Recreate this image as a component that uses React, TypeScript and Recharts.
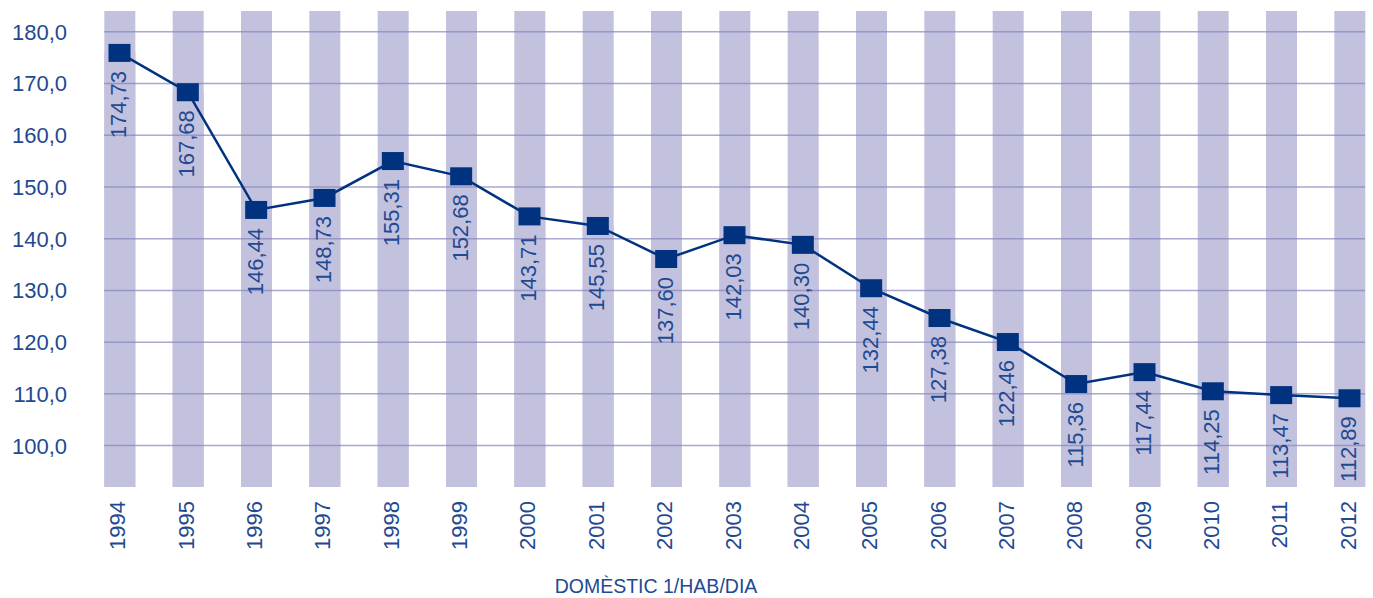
import React from 'react';
import { ComposedChart, Bar, Line, XAxis, YAxis, ReferenceLine, LabelList } from 'recharts';

const years = ['1994','1995','1996','1997','1998','1999','2000','2001','2002','2003','2004','2005','2006','2007','2008','2009','2010','2011','2012'];
const values = [175.9, 168.3, 145.55, 147.87, 155.0, 152.05, 144.3, 142.45, 136.07, 140.67, 138.8, 130.42, 124.66, 120.02, 111.9, 114.2, 110.5, 109.76, 109.15];
const labels = ['174,73','167,68','146,44','148,73','155,31','152,68','143,71','145,55','137,60','142,03','140,30','132,44','127,38','122,46','115,36','117,44','114,25','113,47','112,89'];
const yTicks = [100, 110, 120, 130, 140, 150, 160, 170, 180];
const xTicks = years.map((_, i) => i);
const title = 'DOMÈSTIC 1/HAB/DIA';

const data = years.map((y, i) => ({ idx: i, year: y, value: values[i], label: labels[i] }));

const NAVY = '#00327f';
const TEXT = '#1f4a92';
const BAND = '#c3c2de';
const FONT = '"Liberation Sans", Arial, sans-serif';

const XTick = (props: any) => {
  const { x, y, payload } = props;
  return (
    <text transform={`translate(${x},${y}) rotate(-90)`} x={0} y={6} textAnchor="end" fill={TEXT} fontSize={22} fontFamily={FONT}>
      {years[payload.value]}
    </text>
  );
};

const YTick = (props: any) => {
  const { x, y, payload } = props;
  return (
    <text x={x} y={y} dy="0.36em" textAnchor="end" fill={TEXT} fontSize={22} fontFamily={FONT}>
      {payload.value.toFixed(1).replace('.', ',')}
    </text>
  );
};

const PointLabel = (props: any) => {
  const { x, y, value } = props;
  return (
    <text transform={`translate(${x},${y + 18}) rotate(-90)`} x={0} y={6.5} textAnchor="end" fill={TEXT} fontSize={22} fontFamily={FONT}>
      {value}
    </text>
  );
};

const SquareDot = (props: any) => {
  const { cx, cy, index } = props;
  return <rect key={`d${index}`} x={cx - 11} y={cy - 9} width={22} height={18} fill={NAVY} />;
};

const TitleLabel = (props: any) => {
  const vb = props.viewBox;
  return (
    <text x={vb.x + vb.width / 2 - 78.5} y={vb.y + vb.height - 5} textAnchor="middle" fill={TEXT} fontSize={19.5} fontFamily={FONT}>
      {title}
    </text>
  );
};

export default function App() {
  return (
    <div style={{ position: 'absolute', left: 0, top: 0, background: '#fff' }}>
      <ComposedChart width={1373} height={598} data={data} margin={{ top: 11, right: 8, bottom: 0, left: 0 }}>
        <XAxis
          dataKey="idx"
          type="number"
          domain={[-0.2268, 18.2268]}
          allowDataOverflow
          ticks={xTicks}
          interval={0}
          axisLine={false}
          tickLine={false}
          tickSize={0}
          tickMargin={14}
          height={111}
          tick={<XTick />}
          label={{ content: <TitleLabel /> } as any}
        />
        <YAxis
          type="number"
          domain={[92, 184]}
          allowDataOverflow
          ticks={yTicks}
          axisLine={false}
          tickLine={false}
          tickSize={0}
          tickMargin={37}
          width={104}
          tick={<YTick />}
        />
        <Bar dataKey="value" barSize={31} fill={BAND} background={{ fill: BAND }} isAnimationActive={false} />
        {yTicks.map((t) => (
          <ReferenceLine key={t} y={t} stroke="#8583ba" strokeOpacity={0.7} strokeWidth={1.5} />
        ))}
        <Line
          dataKey="value"
          stroke={NAVY}
          strokeWidth={2.5}
          dot={<SquareDot />}
          activeDot={false}
          isAnimationActive={false}
        >
          <LabelList dataKey="label" content={<PointLabel />} />
        </Line>
      </ComposedChart>
    </div>
  );
}
